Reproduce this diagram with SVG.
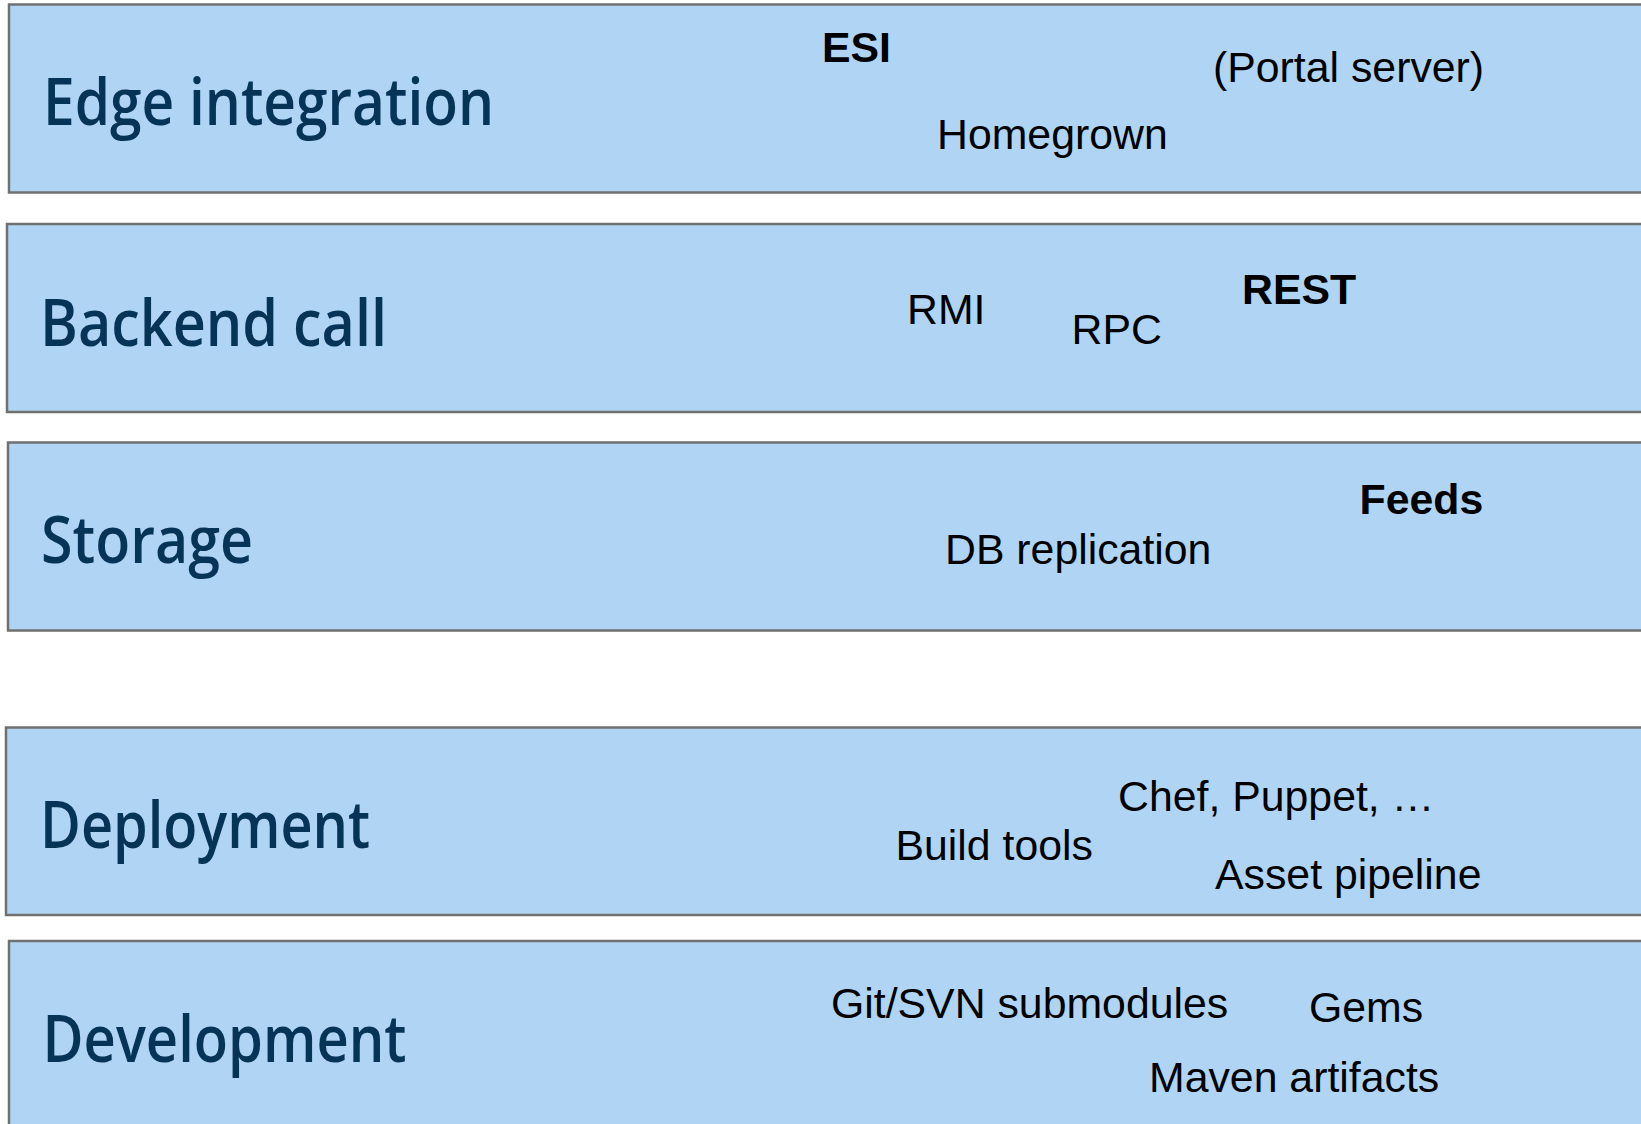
<svg xmlns="http://www.w3.org/2000/svg" width="1641" height="1124" viewBox="0 0 1641 1124">
<style>
  .band { fill: #b0d5f4; stroke: #707070; stroke-width: 2.5; }
  .title { font-family: "Open Sans", "Noto Sans", sans-serif; font-weight: 600; font-size: 65px; fill: #063456; }
  .item { font-family: "Liberation Sans", Arial, sans-serif; font-size: 42.8px; fill: #000000; }
  .bold { font-weight: bold; }
</style>
<rect width="1641" height="1124" fill="#ffffff"/>
<g id="edge-integration">
  <rect class="band" x="9" y="4.5" width="1700" height="188"/>
  <text class="title" x="43" y="125" textLength="451" lengthAdjust="spacingAndGlyphs">Edge integration</text>
  <text class="item bold" x="822" y="61.5">ESI</text>
  <text class="item" x="1213" y="81.5">(Portal server)</text>
  <text class="item" x="937" y="149">Homegrown</text>
</g>
<g id="backend-call">
  <rect class="band" x="7" y="224" width="1700" height="188"/>
  <text class="title" x="40" y="345.5" textLength="347" lengthAdjust="spacingAndGlyphs">Backend call</text>
  <text class="item" x="907" y="324">RMI</text>
  <text class="item" x="1071.5" y="343.5">RPC</text>
  <text class="item bold" x="1242" y="303.5">REST</text>
</g>
<g id="storage">
  <rect class="band" x="8" y="442.5" width="1700" height="188"/>
  <text class="title" x="41" y="563" textLength="212" lengthAdjust="spacingAndGlyphs">Storage</text>
  <text class="item bold" x="1359.5" y="514">Feeds</text>
  <text class="item" x="945" y="563.5">DB replication</text>
</g>
<g id="deployment">
  <rect class="band" x="6" y="727.5" width="1700" height="187.5"/>
  <text class="title" x="40" y="848" textLength="330" lengthAdjust="spacingAndGlyphs">Deployment</text>
  <text class="item" x="1118" y="810.5">Chef, Puppet, …</text>
  <text class="item" x="895.5" y="860">Build tools</text>
  <text class="item" x="1215" y="888.5">Asset pipeline</text>
</g>
<g id="development">
  <rect class="band" x="9" y="941" width="1700" height="220"/>
  <text class="title" x="42.5" y="1062" textLength="364" lengthAdjust="spacingAndGlyphs">Development</text>
  <text class="item" x="831" y="1018">Git/SVN submodules</text>
  <text class="item" x="1309" y="1022">Gems</text>
  <text class="item" x="1149" y="1091.5">Maven artifacts</text>
</g>
<g id="connectors"></g>
</svg>
